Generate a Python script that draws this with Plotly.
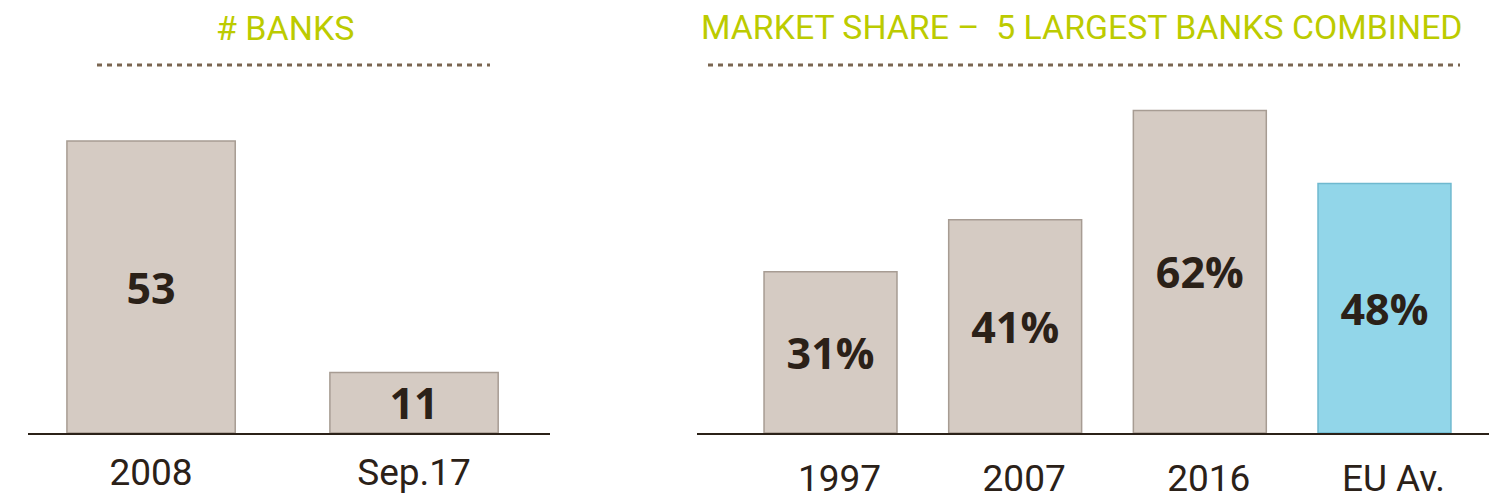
import plotly.graph_objects as go

# ---- data ----
bank_cats = ["2008", "Sep.17"]
bank_counts = [53, 11]
bank_labels = ["53", "11"]

share_cats = ["1997", "2007", "2016", "EU Av."]
share_values = [31, 41, 62, 48]
share_labels = ["31%", "41%", "62%", "48%"]

title_left = "# BANKS"
title_right = "MARKET SHARE \u2013  5 LARGEST BANKS COMBINED"

# ---- styles ----
W, H = 1497, 499
OFF = 8                      # default page body margin
FW, FH = W - OFF, H - OFF
BEIGE = "#d5cbc3"
BLUE = "#92d6e9"
EDGE = "#a79c93"
TXT = "#2b2118"
GREEN = "#bccb00"
DASH = "#7a6651"
TITLE_FONT = "Roboto, sans-serif"
TICK_FONT = "Roboto, sans-serif"
LABEL_FONT = "Open Sans, sans-serif"


def px_x(p):
    return (p - OFF) / FW


def px_y(p):
    return 1 - (p - OFF) / FH


fig = go.Figure()

fig.add_trace(go.Bar(
    x=list(range(len(bank_cats))), y=bank_counts, text=bank_labels,
    textposition="inside", insidetextanchor="middle", textangle=0,
    textfont=dict(family=LABEL_FONT, size=43, color=TXT, weight="bold"),
    marker=dict(color=BEIGE, line=dict(color=EDGE, width=1.5)),
    width=0.64, xaxis="x", yaxis="y", showlegend=False, hoverinfo="skip",
))

share_colors = [BEIGE, BEIGE, BEIGE, BLUE]
share_edges = [EDGE, EDGE, EDGE, "#6fb9cf"]
fig.add_trace(go.Bar(
    x=list(range(len(share_cats))), y=share_values, text=share_labels,
    textposition="inside", insidetextanchor="middle", textangle=0,
    textfont=dict(family=LABEL_FONT, size=43, color=TXT, weight="bold"),
    marker=dict(color=share_colors, line=dict(color=share_edges, width=1.5)),
    width=0.72, xaxis="x2", yaxis="y2", showlegend=False, hoverinfo="skip",
))

base_y = px_y(433)
top_y = px_y(100)

fig.update_layout(
    width=FW, height=FH,
    margin=dict(l=0, r=0, t=0, b=0, autoexpand=False),
    paper_bgcolor="white", plot_bgcolor="white",
    uniformtext=dict(minsize=43, mode="show"),
    xaxis=dict(domain=[px_x(28), px_x(550)], range=[-0.468, 1.517],
               tickmode="array", tickvals=list(range(len(bank_cats))), ticktext=bank_cats,
               showline=True, linecolor=TXT, linewidth=2, showgrid=False, zeroline=False,
               ticks="", ticklabelstandoff=6, automargin=False,
               tickfont=dict(family=TICK_FONT, size=37, color=TXT), anchor="y"),
    yaxis=dict(domain=[base_y, top_y], range=[0, 333 / 5.509], visible=False,
               anchor="x", automargin=False),
    xaxis2=dict(domain=[px_x(697), px_x(1489)], range=[-0.723, 3.566],
                tickmode="array", tickvals=list(range(len(share_cats))), ticktext=share_cats,
                showline=True, linecolor=TXT, linewidth=2, showgrid=False, zeroline=False,
                ticks="", ticklabelstandoff=12, ticklabelshift=9, automargin=False,
                tickfont=dict(family=TICK_FONT, size=37, color=TXT), anchor="y2"),
    yaxis2=dict(domain=[base_y, top_y], range=[0, 333 / 5.2], visible=False,
                anchor="x2", automargin=False),
    annotations=[
        dict(text=title_left, x=px_x(285), y=px_y(28), xref="paper", yref="paper",
             showarrow=False, xanchor="center", yanchor="middle",
             font=dict(family=TITLE_FONT, size=34, color=GREEN)),
        dict(text=title_right, x=px_x(1082), y=px_y(28), xref="paper", yref="paper",
             showarrow=False, xanchor="center", yanchor="middle",
             font=dict(family=TITLE_FONT, size=33.8, color=GREEN)),
    ],
    shapes=[
        dict(type="line", xref="paper", yref="paper", x0=px_x(97), x1=px_x(490),
             y0=px_y(65), y1=px_y(65), line=dict(color=DASH, width=3, dash="5px,5px")),
        dict(type="line", xref="paper", yref="paper", x0=px_x(708), x1=px_x(1460),
             y0=px_y(65), y1=px_y(65), line=dict(color=DASH, width=3, dash="5px,5px")),
    ],
)

fig.write_html("out.html")
